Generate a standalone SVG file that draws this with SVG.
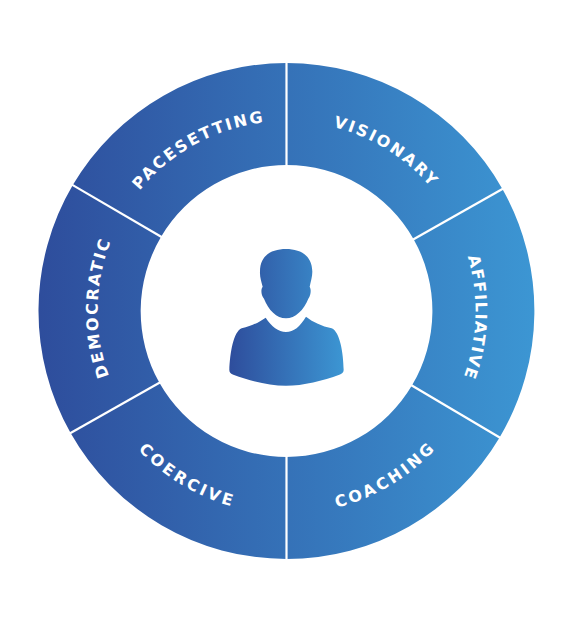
<svg xmlns="http://www.w3.org/2000/svg" width="573" height="622" viewBox="0 0 573 622">
<style>
.s{fill:url(#g)}
.t{font-family:"DejaVu Sans","Liberation Sans",sans-serif;font-weight:700;font-size:16px;letter-spacing:2.2px;fill:#fff;text-anchor:middle}
.n{letter-spacing:1.4px}
.w{letter-spacing:2.9px}
.d{stroke:#fff;stroke-width:2.2;fill:none}
</style>
<defs>
<linearGradient id="g" gradientUnits="userSpaceOnUse" x1="39" y1="0" x2="534" y2="0"><stop offset="0" stop-color="#2e4d9c"/><stop offset="1" stop-color="#3c96d3"/></linearGradient>
<linearGradient id="p" x1="0" y1="0" x2="1" y2="0"><stop offset="0" stop-color="#2e4d9c"/><stop offset="1" stop-color="#3c96d3"/></linearGradient>
<path id="a1" d="M100.3 273.1A190 190 0 0 1 356.1 134.2"/>
<path id="a2" d="M227.8 130.3A190 190 0 0 1 474.7 284.6"/>
<path id="a3" d="M413 170.5A189 189 0 0 1 402.9 459.9"/>
<path id="a4" d="M162.5 453.6A189 189 0 0 1 167.6 164.1"/>
<path id="a5" d="M86 342.8A203 203 0 0 0 352.6 502.9"/>
<path id="a6" d="M220.4 502.9A203 203 0 0 0 487 342.8"/>
</defs>
<rect width="573" height="622" fill="#fff"/>
<g id="pacesetting"><path class="s" d="M286.5 63A248 248 0 0 0 72.8 185.1L161.1 236.8A146 146 0 0 1 286.5 165Z"/><text class="t"><textPath href="#a1" startOffset="50%">PACESETTING</textPath></text></g>
<g id="visionary"><path class="s" d="M286.5 63A248 248 0 0 1 502.4 189L413.6 239.2A146 146 0 0 0 286.5 165Z"/><text class="t"><textPath href="#a2" startOffset="50%">VISIONARY</textPath></text></g>
<g id="affiliative"><path class="s" d="M502.4 189A248 248 0 0 1 499.6 437.5L411.9 385.5A146 146 0 0 0 413.6 239.2Z"/><text class="t n"><textPath href="#a3" startOffset="50%">AFFILIATIVE</textPath></text></g>
<g id="coaching"><path class="s" d="M499.6 437.5A248 248 0 0 1 286.5 559V457A146 146 0 0 0 411.9 385.5Z"/><text class="t w"><textPath href="#a6" startOffset="50%">COACHING</textPath></text></g>
<g id="coercive"><path class="s" d="M286.5 559A248 248 0 0 1 70.6 433L159.4 382.8A146 146 0 0 0 286.5 457Z"/><text class="t w"><textPath href="#a5" startOffset="50%">COERCIVE</textPath></text></g>
<g id="democratic"><path class="s" d="M70.6 433A248 248 0 0 1 72.8 185.1L161.1 236.8A146 146 0 0 0 159.4 382.8Z"/><text class="t"><textPath href="#a4" startOffset="50%">DEMOCRATIC</textPath></text></g>
<g id="connectors">
<path class="d" d="M286.5 62V166"/><path class="d" d="M286.5 456V560"/>
<path class="d" d="M503.3 188.5L412.7 239.7"/><path class="d" d="M500.5 438L411 385"/>
<path class="d" d="M71.9 184.6L162 237.3"/><path class="d" d="M69.7 433.5L160.3 382.3"/>
</g>
<g id="person"><path transform="translate(200 230) scale(.33333)" fill="url(#p)" d="M258 57C300 57 336 75 337 125C337 140 332 155 329 170C334 178 333 195 325 206C312 240 285 265 258 265C230 265 205 240 192 206C183 195 182 178 188 170C184 155 179 140 180 125C180 75 216 57 258 57ZM197 263C215 290 235 305 258 306C281 306 300 290 318 260C340 277 365 288 395 295C420 305 430 370 431 420C431 428 425 432 418 434C370 452 310 467 258 467C205 467 150 452 100 434C93 432 88 428 88 420C90 370 100 305 125 295C155 288 177 277 197 263Z"/></g>
</svg>
